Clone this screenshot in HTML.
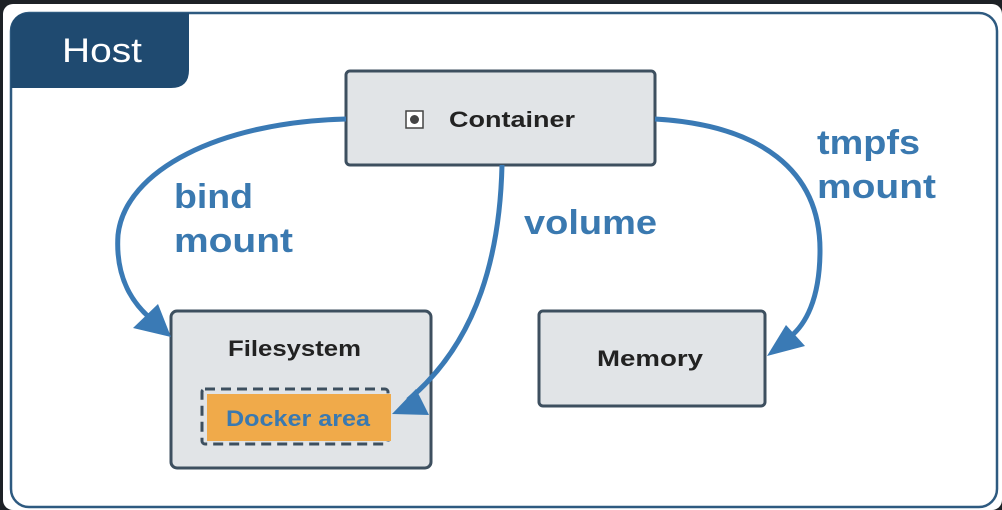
<!DOCTYPE html>
<html><head><style>
html,body{margin:0;padding:0;background:#1d2126;}
body{width:1002px;height:510px;overflow:hidden;}
svg{display:block}
text{font-family:"Liberation Sans",sans-serif;}
</style></head><body>
<svg width="1002" height="510" viewBox="0 0 1002 510">
<rect x="3" y="4" width="999" height="506" rx="10" fill="#fff"/>
<rect x="11" y="13" width="986" height="494" rx="18" fill="#fff" stroke="#2e5a80" stroke-width="2.5"/>
<path d="M11 31 Q11 13 29 13 L189 13 L189 70 Q189 88 171 88 L11 88 Z" fill="#1f4a70"/>
<text x="62" y="62" font-size="34" fill="#fff" textLength="80" lengthAdjust="spacingAndGlyphs">Host</text>

<rect x="346" y="71" width="309" height="94" rx="4" fill="#e1e4e7" stroke="#3d4f5f" stroke-width="3"/>
<rect x="406" y="111" width="17" height="17" fill="#fff" stroke="#444" stroke-width="1.5"/>
<circle cx="414.5" cy="119.5" r="4.5" fill="#444"/>
<text x="449" y="127" font-size="22" fill="#222" font-weight="bold" textLength="126" lengthAdjust="spacingAndGlyphs">Container</text>

<rect x="171" y="311" width="260" height="157" rx="6" fill="#e1e4e7" stroke="#3d4f5f" stroke-width="3"/>
<text x="228" y="356" font-size="22" fill="#222" font-weight="bold" textLength="133" lengthAdjust="spacingAndGlyphs">Filesystem</text>
<rect x="202" y="389" width="186" height="55" rx="3" fill="none" stroke="#3d4f5f" stroke-width="3" stroke-dasharray="10,6"/>
<rect x="207" y="394" width="184" height="47" fill="#f0aa4a"/>
<text x="226" y="426" font-size="22" fill="#3a79b0" font-weight="bold" textLength="144" lengthAdjust="spacingAndGlyphs">Docker area</text>

<rect x="539" y="311" width="226" height="95" rx="4" fill="#e1e4e7" stroke="#3d4f5f" stroke-width="3"/>
<text x="597" y="366" font-size="22" fill="#222" font-weight="bold" textLength="106" lengthAdjust="spacingAndGlyphs">Memory</text>

<g fill="none" stroke="#3a7ab5" stroke-width="5">
<path d="M346 119 C220 122 125 170 118 235 C115 280 135 305 150 318"/>
<path d="M502 165 C500 250 480 340 408 400"/>
<path d="M655 119 C760 125 820 170 820 250 C820 300 805 325 790 337"/>
</g>
<g fill="#3a7ab5">
<polygon points="171,337 133,328 158,304"/>
<polygon points="392,414 416,389 429,415"/>
<polygon points="767,356 786,325 805,346"/>
</g>
<g font-size="34" fill="#3a79b0" font-weight="bold">
<text x="174" y="208" textLength="79" lengthAdjust="spacingAndGlyphs">bind</text>
<text x="174" y="252" textLength="119" lengthAdjust="spacingAndGlyphs">mount</text>
<text x="524" y="234" textLength="133" lengthAdjust="spacingAndGlyphs">volume</text>
<text x="817" y="154" textLength="103" lengthAdjust="spacingAndGlyphs">tmpfs</text>
<text x="817" y="198" textLength="119" lengthAdjust="spacingAndGlyphs">mount</text>
</g>
</svg>
</body></html>
